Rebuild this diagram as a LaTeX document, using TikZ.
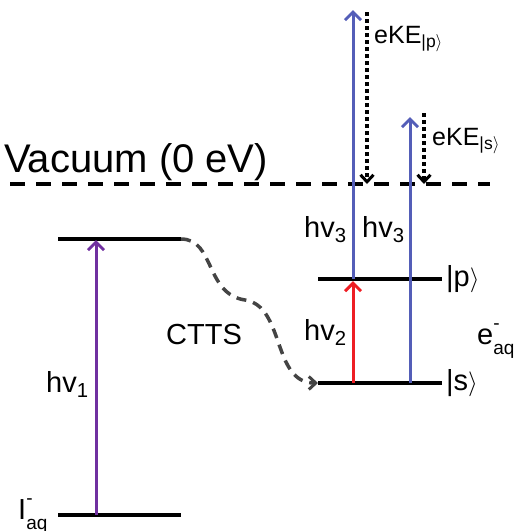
\documentclass[tikz,border=0pt]{standalone}
\usepackage{fontspec}
\setmainfont{Liberation Sans}
\usetikzlibrary{arrows.meta,positioning}

\definecolor{pumpviolet}{RGB}{112,48,160}
\definecolor{probeblue}{RGB}{84,94,184}
\definecolor{exred}{RGB}{238,30,36}
\definecolor{cttsgray}{RGB}{68,68,68}

\newcommand{\supsub}[2]{\rlap{\raisebox{0.5em}{\fontsize{19}{19}\selectfont #1}}\raisebox{-0.35em}{\fontsize{19}{19}\selectfont #2}}

\begin{document}
\begin{tikzpicture}[x=1pt, y=-1pt,
  level/.style={line width=3.5pt},
  photon/.style={line width=3pt, -{Straight Barb[length=8pt, width=16pt, line width=3pt]}},
  ekin/.style={line width=3.5pt, dash pattern=on 3.5pt off 3.5pt,
               -{Straight Barb[length=7pt, width=13pt, line width=3pt]}},
  lbl/.style={inner sep=0pt, font=\fontsize{29}{32}\selectfont},
  small/.style={inner sep=0pt, font=\fontsize{25}{28}\selectfont}]
\useasboundingbox (0,0) rectangle (523,531);
% energy levels
\coordinate (iL) at (58,515);  \coordinate (iR) at (181,515);
\coordinate (cL) at (58,239);  \coordinate (cR) at (181,239);
\coordinate (pL) at (318,279); \coordinate (pR) at (442,279);
\coordinate (sL) at (318,383); \coordinate (sR) at (442,383);
\coordinate (vL) at (10,184);  \coordinate (vR) at (490,184);
\draw[level] (iL) -- (iR);
\draw[level] (cL) -- (cR);
\draw[level] (pL) -- (pR);
\draw[level] (sL) -- (sR);
\draw[line width=3.5pt, dash pattern=on 15pt off 11pt] (vL) -- (vR);
% transitions
\coordinate (i1) at (96,515);   \coordinate (c1) at (96,240);
\coordinate (s1) at (353,383);  \coordinate (p1) at (353,281);
\coordinate (p2) at (353,279);  \coordinate (t1) at (353,10);
\coordinate (s2) at (410,383);  \coordinate (t2) at (410,117);
\coordinate (k1) at (367,12);   \coordinate (v1) at (367,184);
\coordinate (k2) at (424,113);  \coordinate (v2) at (424,184);
\draw[photon, pumpviolet] (i1) -- (c1);
\draw[photon, exred] (s1) -- (p1);
\draw[photon, probeblue] (p2) -- (t1);
\draw[photon, probeblue] (s2) -- (t2);
\draw[ekin] (k1) -- (v1);
\draw[ekin] (k2) -- (v2);
\draw[cttsgray, line width=3.5pt, dash pattern=on 10pt off 7pt,
      -{Straight Barb[length=7pt, width=13pt, line width=3pt]}]
  (cR) .. controls (215,239) and (205,294) .. (245,300)
       .. controls (285,306) and (272,383) .. (sL);
% labels
\node[inner sep=0pt, font=\fontsize{40}{44}\selectfont, anchor=base west] (vac) at (4,172) {Vacuum (0 eV)};
\node[lbl, anchor=base west] (hv1) at (46,392) {hv\textsubscript{1}};
\node[lbl, anchor=base west] (ctts) at (166,344) {CTTS};
\node[lbl, anchor=base west] (hv2) at (304,340) {hv\textsubscript{2}};
\node[lbl, anchor=base west] (hv3a) at (304,237) {hv\textsubscript{3}};
\node[lbl, anchor=base west] (hv3b) at (362,237) {hv\textsubscript{3}};
\node[lbl, anchor=west] (ketp) at (446,279) {|p$\rangle$};
\node[lbl, anchor=west] (kets) at (446,383) {|s$\rangle$};
\node[lbl, anchor=base west] (eaq) at (477,344) {e\supsub{-}{aq}};
\node[lbl, anchor=base west] (iaq) at (18,519) {I\supsub{-}{aq}};
\node[small, anchor=base west] (ekep) at (374,43) {eKE\textsubscript{|p$\rangle$}};
\node[small, anchor=base west] (ekes) at (432,145) {eKE\textsubscript{|s$\rangle$}};
\end{tikzpicture}
\end{document}
